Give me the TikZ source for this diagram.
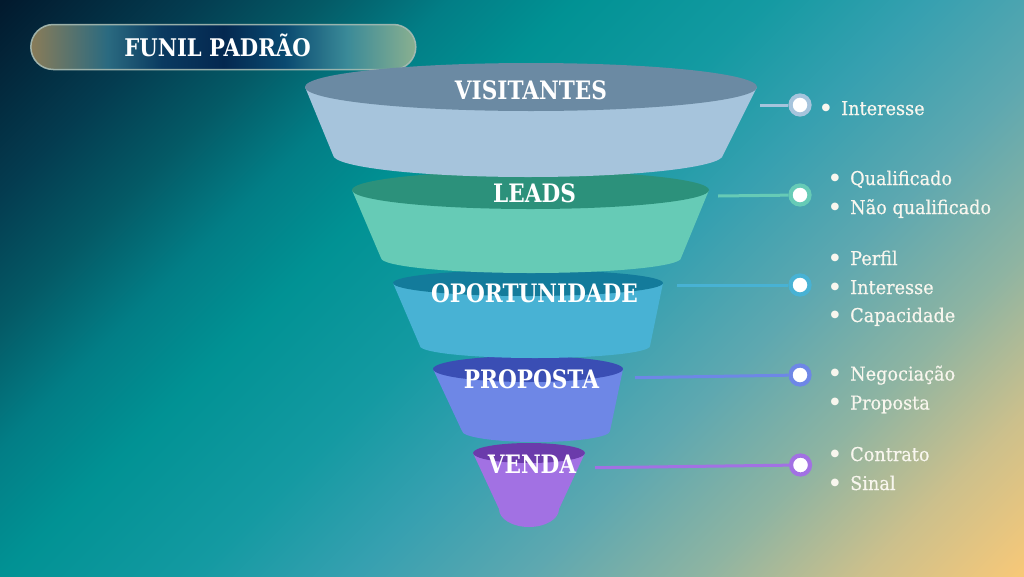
\documentclass[tikz,border=0pt]{standalone}
\usepackage{fontspec}
\setmainfont{DejaVu Serif}
\newfontfamily\slabfont[FakeStretch=0.85]{DejaVu Serif}
\newfontfamily\titlefont[FakeStretch=0.87]{DejaVu Serif}
\newfontfamily\breefont[FakeStretch=0.93,FakeBold=0.5]{DejaVu Serif}
\newfontfamily\bulfont{DejaVu Sans}
\definecolor{bgA}{HTML}{021A2E}
\definecolor{bgB}{HTML}{043C50}
\definecolor{bgC}{HTML}{045A66}
\definecolor{bgD}{HTML}{027E86}
\definecolor{bgE}{HTML}{019294}
\definecolor{bgF}{HTML}{149AA2}
\definecolor{bgG}{HTML}{36A0B0}
\definecolor{bgH}{HTML}{5EA8B0}
\definecolor{bgI}{HTML}{8EB4A2}
\definecolor{bgK}{HTML}{CCC08C}
\definecolor{bgJ}{HTML}{F7C878}
\definecolor{pA}{HTML}{8A7C58}
\definecolor{pB}{HTML}{2A6A80}
\definecolor{pC}{HTML}{0A3A60}
\definecolor{pD}{HTML}{042850}
\definecolor{pE}{HTML}{0A4A70}
\definecolor{pF}{HTML}{3A8A98}
\definecolor{pG}{HTML}{8AB090}
\definecolor{pillborder}{HTML}{A8BCB4}
\definecolor{topA}{HTML}{6B8AA3}
\definecolor{bodyA}{HTML}{A6C4DC}
\definecolor{topB}{HTML}{2C917B}
\definecolor{bodyB}{HTML}{66CBB6}
\definecolor{topC}{HTML}{137B9B}
\definecolor{bodyC}{HTML}{48B2D4}
\definecolor{topD}{HTML}{3A4EB4}
\definecolor{bodyD}{HTML}{6E87E6}
\definecolor{topE}{HTML}{6B3BAB}
\definecolor{bodyE}{HTML}{A271E3}
\definecolor{listwhite}{HTML}{F8F6EE}
% bp = 14.6 + 70.8 t
\pgfdeclarehorizontalshading{bgshade}{100bp}{color(0bp)=(bgA); color(14.6bp)=(bgA); color(23.1bp)=(bgB); color(28.8bp)=(bgC); color(34.4bp)=(bgD); color(40.1bp)=(bgE); color(48.6bp)=(bgF); color(55.7bp)=(bgG); color(63.5bp)=(bgH); color(71.2bp)=(bgI); color(78.3bp)=(bgK); color(85.4bp)=(bgJ); color(100bp)=(bgJ)}
\pgfdeclarehorizontalshading{pillshade}{100bp}{color(0bp)=(pA); color(25bp)=(pA); color(35bp)=(pB); color(42bp)=(pC); color(50bp)=(pD); color(58bp)=(pE); color(66bp)=(pF); color(75bp)=(pG); color(100bp)=(pG)}
\begin{document}
\begin{tikzpicture}[x=1pt,y=-1pt,
  lab/.style={anchor=base, text=white, inner sep=0pt, font=\slabfont\bfseries\fontsize{25.4}{30}\selectfont},
  ttl/.style={anchor=base, text=white, inner sep=0pt, font=\titlefont\bfseries\fontsize{24.3}{29}\selectfont},
  itm/.style={anchor=base west, text=listwhite, inner sep=0pt, font=\breefont\fontsize{19}{23}\selectfont},
  bul/.style={anchor=center, text=listwhite, inner sep=0pt, font=\bulfont\fontsize{10}{12}\selectfont},
  conn/.style={line width=3pt},
  dotc/.style={circle, fill=white, line width=4.2pt, minimum size=19pt, inner sep=0pt},
  pill/.style={draw=pillborder, draw opacity=0.9, line width=1.5pt, rounded corners=22.5pt, minimum width=385pt, minimum height=45pt, inner sep=0pt, shade, shading=pillshade}
]
\useasboundingbox (0,0) rectangle (1024,576);
\shade[shading=bgshade, shading angle=-45] (0,0) rectangle (1024,576);

% title
\node[pill] (titlebox) at (223.3,47) {};
\node[ttl] (titletext) at (217.5,56) {FUNIL PADRÃO};

% funnel segments, bottom first
\fill[bodyE] (473,453) -- (499,509) arc[start angle=180, end angle=0, x radius=30, y radius=18] -- (585,453) -- cycle;
\fill[topE] (529,453) ellipse[x radius=56, y radius=10];
\fill[bodyD] (433,369) -- (462,431) arc[start angle=180, end angle=0, x radius=74, y radius=11] -- (623,369) -- cycle;
\fill[topD] (528,369) ellipse[x radius=95, y radius=13];
\fill[bodyC] (393,283) -- (420,346) arc[start angle=180, end angle=0, x radius=115, y radius=12] -- (663,283) -- cycle;
\fill[topC] (528,283) ellipse[x radius=135, y radius=13];
\fill[bodyB] (352,190) -- (381,258) arc[start angle=180, end angle=0, x radius=150, y radius=15] -- (709,190) -- cycle;
\fill[topB] (530.5,190) ellipse[x radius=178.5, y radius=19];
\fill[bodyA] (305,87) -- (333,155) arc[start angle=180, end angle=0, x radius=195, y radius=22] -- (757,87) -- cycle;
\fill[topA] (531,87) ellipse[x radius=226, y radius=24];

% labels
\node[lab] (v1) at (531,99.3) {VISITANTES};
\node[lab] (v2) at (534.5,202.7) {LEADS};
\node[lab] (v3) at (534.5,302.3) {OPORTUNIDADE};
\node[lab] (v4) at (531.5,388.3) {PROPOSTA};
\node[lab] (v5) at (532,473.3) {VENDA};

% connector end points
\coordinate (s1) at (760,105);
\coordinate (s2) at (718,196);
\coordinate (s3) at (677,285);
\coordinate (s4) at (635,377.7);
\coordinate (s5) at (595,467.7);

\node[dotc, draw=bodyA] (c1) at (800,105) {};
\node[dotc, draw=bodyB] (c2) at (800,195) {};
\node[dotc, draw=bodyC] (c3) at (800,285) {};
\node[dotc, draw=bodyD] (c4) at (800,375) {};
\node[dotc, draw=bodyE] (c5) at (800.5,465) {};

\draw[conn, bodyA] (s1) -- (c1);
\draw[conn, bodyB] (s2) -- (c2);
\draw[conn, bodyC] (s3) -- (c3);
\draw[conn, bodyD] (s4) -- (c4);
\draw[conn, bodyE] (s5) -- (c5);

% lists
\node[bul] (b11) at (826,108) {●};
\node[itm] (t11) at (841,115) {Interesse};

\node[bul] (b21) at (835,178) {●};
\node[itm] (t21) at (850,185) {Qualificado};
\node[bul] (b22) at (835,207) {●};
\node[itm] (t22) at (850,214) {Não qualificado};

\node[bul] (b31) at (835,258) {●};
\node[itm] (t31) at (850,265) {Perfil};
\node[bul] (b32) at (835,287) {●};
\node[itm] (t32) at (850,294) {Interesse};
\node[bul] (b33) at (835,315) {●};
\node[itm] (t33) at (850,322) {Capacidade};

\node[bul] (b41) at (835,373) {●};
\node[itm] (t41) at (850,380.5) {Negociação};
\node[bul] (b42) at (835,402) {●};
\node[itm] (t42) at (850,409.5) {Proposta};

\node[bul] (b51) at (835,454) {●};
\node[itm] (t51) at (850,461) {Contrato};
\node[bul] (b52) at (835,483) {●};
\node[itm] (t52) at (850,490) {Sinal};
\end{tikzpicture}
\end{document}
